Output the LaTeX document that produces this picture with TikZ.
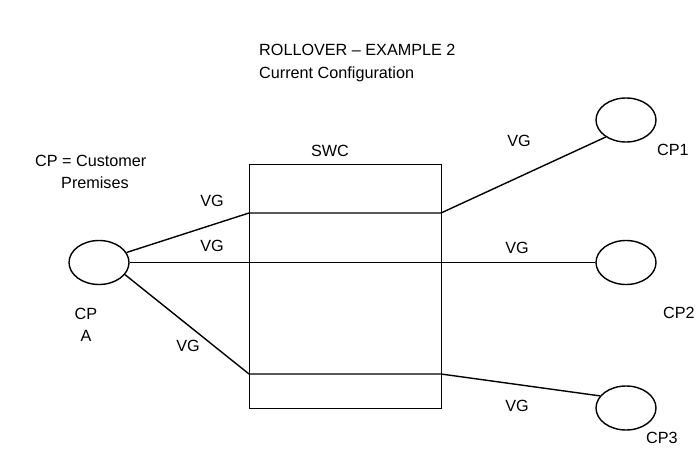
\documentclass[tikz,border=0pt]{standalone}
\usepackage{fontspec}
\setmainfont{Liberation Sans}
\usetikzlibrary{shapes.geometric}
\begin{document}
\begin{tikzpicture}[x=1pt,y=-1pt,
  cpnode/.style={draw,ellipse,line width=1.4pt,minimum width=60pt,minimum height=44pt,inner sep=0pt},
  wire/.style={line width=1.4pt},
  lbl/.style={inner sep=0pt,font=\fontsize{16.2}{22}\selectfont,anchor=base west},
  lblc/.style={inner sep=0pt,font=\fontsize{16.2}{22}\selectfont,anchor=base}]
\useasboundingbox (0,0) rectangle (696,460);
\clip (0,0) rectangle (696,460);
% titles
\node[lbl] (t1) at (259,56) {ROLLOVER – EXAMPLE 2};
\node[lbl] (t2) at (259,78) {Current Configuration};
\node[lbl] (leg1) at (35,166) {CP = Customer};
\node[lbl] (leg2) at (61,188) {Premises};
% switch box
\node[draw,line width=1.4pt,minimum width=192pt,minimum height=244pt,inner sep=0pt,anchor=north west] (swc) at (249,164) {};
\node[lblc] (swclbl) at (330,156) {SWC};
% customer premises
\node[cpnode] (cpa) at (99,262.5) {};
\node[cpnode] (cp1) at (626,120) {};
\node[cpnode] (cp2) at (626,262.5) {};
\node[cpnode] (cp3) at (626,408) {};
% box ports
\coordinate (b1l) at (249,213);
\coordinate (b1r) at (441,213);
\coordinate (b3l) at (249,374);
\coordinate (b3r) at (441,374);
% wires
\draw[wire] (cpa.20) -- (b1l) -- (b1r) -- (cp1.220);
\draw[wire] (cpa.east) -- (cp2.west);
\draw[wire] (cpa.-25) -- (b3l) -- (b3r) -- (cp3.155);
% VG labels
\node[lblc] (vg1) at (212,206) {VG};
\node[lblc] (vg2) at (212,251) {VG};
\node[lblc] (vg3) at (188,351) {VG};
\node[lblc] (vg4) at (519,146) {VG};
\node[lblc] (vg5) at (517,253) {VG};
\node[lblc] (vg6) at (517,411) {VG};
% CP labels
\node[lblc] (cpal1) at (86,319) {CP};
\node[lblc] (cpal2) at (86,341) {A};
\node[lbl] (cp1l) at (657,155) {CP1};
\node[lbl] (cp2l) at (663,318) {CP2};
\node[lbl] (cp3l) at (646,443) {CP3};
\end{tikzpicture}
\end{document}
